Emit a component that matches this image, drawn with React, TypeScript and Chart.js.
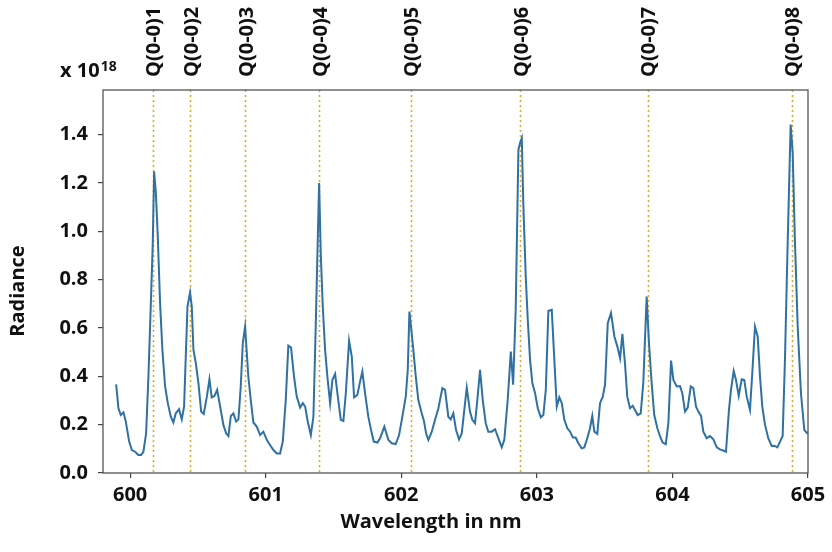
import { useEffect, useRef } from "react";
import { Chart, registerables } from "chart.js";

Chart.register(...registerables);

const wavelengths = [
  599.897, 599.914, 599.931, 599.951, 599.968, 599.993, 600.013, 600.037, 600.061, 600.081,
  600.098, 600.118, 600.135, 600.153, 600.167, 600.177, 600.190, 600.204, 600.221, 600.238,
  600.258, 600.278, 600.300, 600.319, 600.337, 600.361, 600.381, 600.398, 600.423, 600.442,
  600.455, 600.467, 600.485, 600.504, 600.524, 600.543, 600.566, 600.585, 600.602, 600.622,
  600.642, 600.664, 600.688, 600.708, 600.725, 600.743, 600.762, 600.782, 600.799, 600.816,
  600.831, 600.848,
  600.872, 600.890, 600.909, 600.934, 600.959, 600.983, 601.008, 601.032, 601.057, 601.082,
  601.106, 601.126, 601.148, 601.167, 601.187, 601.209, 601.229, 601.254, 601.274, 601.291,
  601.310, 601.333, 601.352, 601.369, 601.384, 601.394, 601.406, 601.421, 601.438, 601.455,
  601.475, 601.492, 601.512, 601.532, 601.554, 601.573, 601.591, 601.615, 601.635, 601.652,
  601.676, 601.696, 601.713, 601.733, 601.757, 601.777, 601.797, 601.824, 601.844, 601.875,
  601.905, 601.930, 601.959, 601.984, 602.008, 602.033, 602.048, 602.060, 602.072, 602.089,
  602.107, 602.126, 602.151, 602.168, 602.183, 602.200, 602.225, 602.249, 602.274, 602.288,
  602.303, 602.323, 602.347, 602.365, 602.384, 602.404, 602.426, 602.446, 602.465, 602.483,
  602.507, 602.524, 602.544, 602.561, 602.581, 602.601, 602.623, 602.642, 602.667, 602.692,
  602.716, 602.741, 602.760, 602.785, 602.808, 602.825, 602.844, 602.864, 602.876, 602.889,
  602.900, 602.918,
  602.933, 602.950, 602.967, 602.987, 603.007, 603.029, 603.048, 603.066, 603.085, 603.110,
  603.129, 603.147, 603.166, 603.184, 603.203, 603.225, 603.245, 603.265, 603.287, 603.306,
  603.331, 603.350, 603.372, 603.392, 603.409, 603.424, 603.446, 603.466, 603.486, 603.503,
  603.523, 603.547, 603.572, 603.594, 603.614, 603.631, 603.650, 603.667, 603.687, 603.707,
  603.724, 603.744, 603.766, 603.785, 603.810, 603.827, 603.847, 603.866, 603.889, 603.909,
  603.928, 603.951,
  603.970, 603.990, 604.007, 604.032, 604.056, 604.073, 604.093, 604.113, 604.135, 604.154,
  604.174, 604.191, 604.211, 604.228, 604.253, 604.277, 604.302, 604.327, 604.351, 604.375,
  604.395, 604.417, 604.432, 604.452, 604.469, 604.489, 604.511, 604.530, 604.548, 604.572,
  604.589, 604.609, 604.629, 604.646, 604.663, 604.683, 604.707, 604.732, 604.752, 604.774,
  604.794, 604.813, 604.830, 604.850, 604.872, 604.887, 604.904, 604.924, 604.948, 604.973,
  604.995, 605.000,
];

const radiance = [
  0.367, 0.268, 0.240, 0.251, 0.213, 0.130, 0.095, 0.088, 0.075, 0.075,
  0.088, 0.164, 0.399, 0.703, 0.951, 1.248, 1.159, 0.979, 0.703, 0.510,
  0.358, 0.289, 0.233, 0.209, 0.247, 0.264, 0.222, 0.275, 0.689, 0.747,
  0.689, 0.510, 0.454, 0.371, 0.254, 0.244, 0.316, 0.388, 0.313, 0.319,
  0.344, 0.275, 0.199, 0.164, 0.153, 0.236, 0.247, 0.213, 0.222, 0.358,
  0.537, 0.606,
  0.399, 0.302, 0.209, 0.192, 0.157, 0.171, 0.137, 0.116, 0.095, 0.081,
  0.081, 0.130, 0.302, 0.527, 0.519, 0.399, 0.316, 0.271, 0.289, 0.275,
  0.213, 0.157, 0.233, 0.606, 0.965, 1.200, 0.910, 0.689, 0.510, 0.399,
  0.289, 0.385, 0.410, 0.316, 0.220, 0.215, 0.330, 0.547, 0.482, 0.313,
  0.323, 0.378, 0.420, 0.330, 0.233, 0.178, 0.130, 0.126, 0.144, 0.192,
  0.137, 0.123, 0.120, 0.157, 0.233, 0.316, 0.427, 0.668, 0.606, 0.510,
  0.399, 0.302, 0.247, 0.213, 0.164, 0.137, 0.171, 0.220, 0.268, 0.309,
  0.351, 0.344, 0.233, 0.222, 0.247, 0.178, 0.139, 0.164, 0.261, 0.353,
  0.254, 0.220, 0.206, 0.302, 0.427, 0.302, 0.206, 0.171, 0.171, 0.181,
  0.144, 0.106, 0.137, 0.302, 0.503, 0.365, 0.675, 1.338, 1.366, 1.386,
  1.117, 0.813,
  0.634, 0.468, 0.371, 0.330, 0.268, 0.231, 0.240, 0.344, 0.671, 0.675,
  0.468, 0.275, 0.313, 0.289, 0.220, 0.185, 0.171, 0.148, 0.146, 0.123,
  0.102, 0.106, 0.144, 0.185, 0.236, 0.171, 0.162, 0.289, 0.316, 0.365,
  0.620, 0.662, 0.565, 0.523, 0.475, 0.576, 0.454, 0.316, 0.268, 0.278,
  0.261, 0.240, 0.247, 0.371, 0.730, 0.537, 0.371, 0.240, 0.185, 0.151,
  0.126, 0.119,
  0.206, 0.465, 0.385, 0.358, 0.360, 0.330, 0.254, 0.271, 0.358, 0.351,
  0.275, 0.254, 0.236, 0.171, 0.144, 0.153, 0.139, 0.106, 0.098, 0.093,
  0.088, 0.261, 0.344, 0.422, 0.385, 0.319, 0.388, 0.385, 0.316, 0.261,
  0.413, 0.606, 0.565, 0.399, 0.275, 0.199, 0.144, 0.112, 0.113, 0.106,
  0.130, 0.153, 0.468, 0.951, 1.442, 1.324, 0.951, 0.606, 0.330, 0.178,
  0.164, 0.163,
];

const qPositions = [600.167, 600.442, 600.848, 601.396, 602.07, 602.876, 603.818, 604.88];
const qLabels = ["Q(0-0)1", "Q(0-0)2", "Q(0-0)3", "Q(0-0)4", "Q(0-0)5", "Q(0-0)6", "Q(0-0)7", "Q(0-0)8"];

const xTitle = "Wavelength in nm";
const yTitle = "Radiance";
const scaleBase = "x 10";
const scaleExp = "18";

const FONT = "'Open Sans', 'DejaVu Sans', sans-serif";
const TEXT = "#111111";

export default function App() {
  const ref = useRef<HTMLCanvasElement | null>(null);

  useEffect(() => {
    const canvas = ref.current;
    if (!canvas) return;

    const overlay = {
      id: "overlay",
      beforeDatasetsDraw(chart: any) {
        const { ctx, chartArea, scales } = chart;
        ctx.save();
        ctx.strokeStyle = "#E0A82A";
        ctx.lineWidth = 1.6;
        ctx.setLineDash([2, 3]);
        qPositions.forEach((q) => {
          const x = Math.round(scales.x.getPixelForValue(q)) + 0.5;
          ctx.beginPath();
          ctx.moveTo(x, chartArea.top);
          ctx.lineTo(x, chartArea.bottom);
          ctx.stroke();
        });
        ctx.restore();
      },
      afterDraw(chart: any) {
        const { ctx, chartArea, scales } = chart;
        ctx.save();
        ctx.strokeStyle = "#555555";
        ctx.lineWidth = 1.3;
        ctx.strokeRect(chartArea.left, chartArea.top, chartArea.right - chartArea.left, chartArea.bottom - chartArea.top);

        ctx.fillStyle = TEXT;
        ctx.font = `bold 20px ${FONT}`;
        ctx.textAlign = "left";
        ctx.textBaseline = "middle";
        qPositions.forEach((q, i) => {
          const x = scales.x.getPixelForValue(q) + 2;
          ctx.save();
          ctx.translate(x, 77);
          ctx.rotate(-Math.PI / 2);
          ctx.fillText(qLabels[i], 0, 0);
          ctx.restore();
        });

        ctx.textBaseline = "alphabetic";
        ctx.font = `bold 20px ${FONT}`;
        ctx.fillText(scaleBase, 60, 77);
        const w = ctx.measureText(scaleBase).width;
        ctx.font = `bold 14px ${FONT}`;
        ctx.fillText(scaleExp, 60 + w + 1, 71);

        ctx.font = `bold 20px ${FONT}`;
        ctx.textAlign = "center";
        ctx.textBaseline = "middle";
        ctx.fillText(xTitle, 431, 522);
        ctx.save();
        ctx.translate(18, 291);
        ctx.rotate(-Math.PI / 2);
        ctx.fillText(yTitle, 0, 0);
        ctx.restore();
        ctx.restore();
      },
    };

    const chart = new Chart(canvas, {
      type: "line",
      data: {
        datasets: [
          {
            data: wavelengths.map((x, i) => ({ x, y: radiance[i] })),
            borderColor: "#2f71a2",
            borderWidth: 2,
            pointRadius: 0,
            tension: 0,
            fill: false,
          },
        ],
      },
      options: {
        responsive: false,
        animation: false,
        events: [],
        layout: { padding: { top: 90, right: 24, left: 0, bottom: 0 } },
        plugins: { legend: { display: false }, tooltip: { enabled: false } },
        scales: {
          x: {
            type: "linear",
            min: 599.8,
            max: 605,
            border: { display: false },
            grid: { drawOnChartArea: false, drawTicks: true, tickLength: 5, color: "#444444", lineWidth: 1.2 },
            ticks: {
              stepSize: 1,
              includeBounds: false,
              color: TEXT,
              padding: 5,
              maxRotation: 0,
              font: { family: FONT, size: 20, weight: "bold" },
              callback: (v: any) => String(Math.round(Number(v))),
            },
            afterFit: (s: any) => {
              s.height = 79;
            },
          },
          y: {
            min: 0,
            max: 1.585,
            border: { display: false },
            grid: { drawOnChartArea: false, drawTicks: true, tickLength: 5, color: "#444444", lineWidth: 1.2 },
            ticks: {
              stepSize: 0.2,
              includeBounds: false,
              color: TEXT,
              padding: 10,
              font: { family: FONT, size: 20, weight: "bold" },
              callback: (v: any) => Number(v).toFixed(1),
            },
            afterFit: (s: any) => {
              s.width = 103;
            },
          },
        },
      },
      plugins: [overlay],
    });

    return () => chart.destroy();
  }, []);

  return (
    <div style={{ position: "fixed", left: 0, top: 0, width: 832, height: 552, background: "#ffffff" }}>
      <canvas ref={ref} width={832} height={552} style={{ display: "block", width: 832, height: 552 }} />
    </div>
  );
}
